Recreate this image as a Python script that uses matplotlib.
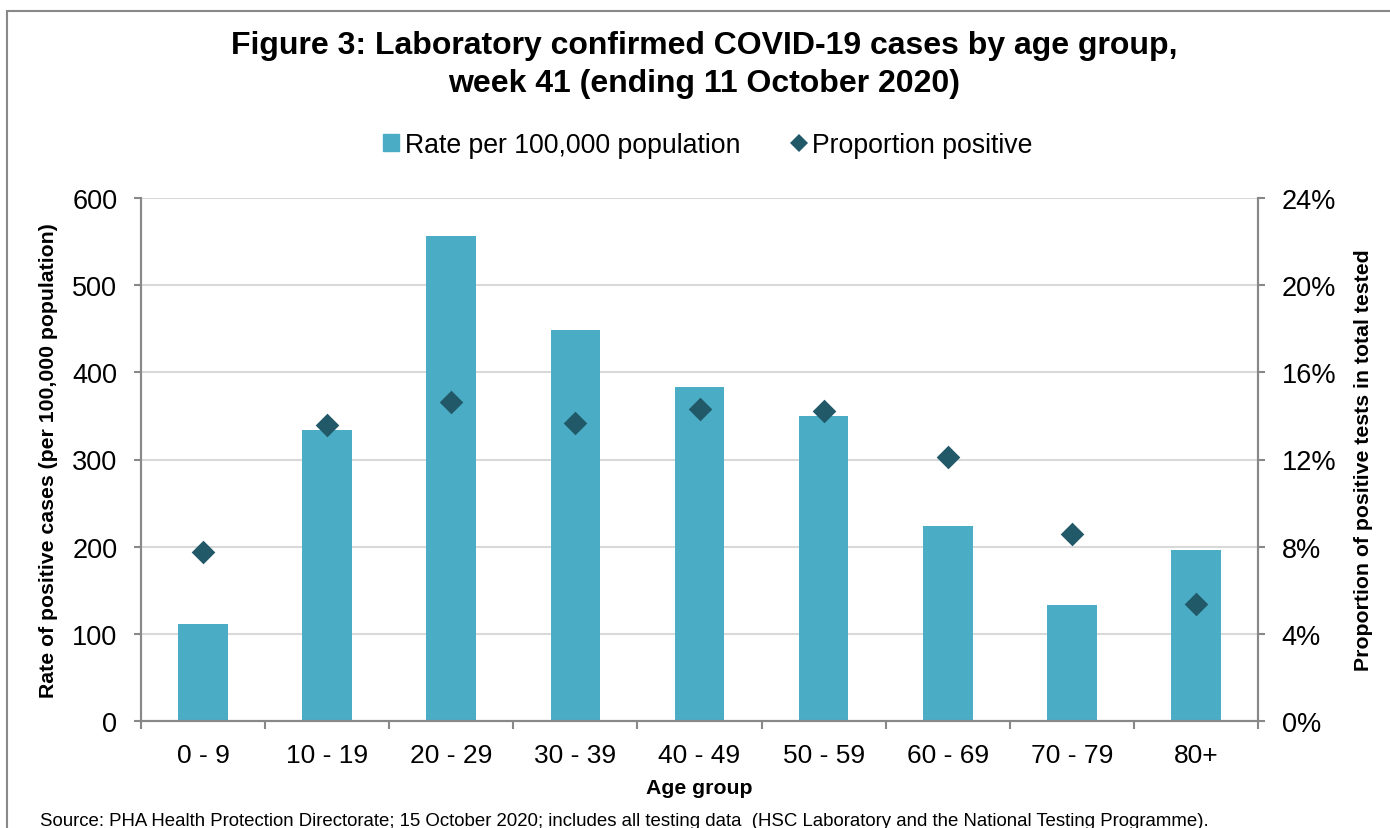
import numpy as np
import matplotlib
matplotlib.use('Agg')
import matplotlib.pyplot as plt
from matplotlib.ticker import FuncFormatter, MultipleLocator
from matplotlib.lines import Line2D
from matplotlib.patches import Patch, Rectangle

plt.rcParams['font.family'] = ['Liberation Sans', 'DejaVu Sans']

age_groups = ['0 - 9', '10 - 19', '20 - 29', '30 - 39', '40 - 49',
              '50 - 59', '60 - 69', '70 - 79', '80+']
rate = [111, 334, 556, 448, 383, 350, 224, 133, 196]
proportion = [7.76, 13.6, 14.64, 13.68, 14.32, 14.23, 12.12, 8.58, 5.37]

bar_col = '#4BACC6'
dia_col = '#215968'
grid_col = '#D9D9D9'
spine_col = '#888888'

W, H = 1390, 829
fig = plt.figure(figsize=(W/100, H/100), dpi=100)
ax = fig.add_axes([141/W, 1 - 722/H, (1258-141)/W, (722-199)/H])
ax2 = ax.twinx()

x = np.arange(len(age_groups))
ax.bar(x, rate, width=0.4, color=bar_col, zorder=2)
ax2.scatter(x, proportion, marker='D', s=145, color=dia_col, lw=0, zorder=3)

ax.set_xlim(-0.5, len(age_groups) - 0.5)
ax.set_ylim(0, 600)
ax.yaxis.set_major_locator(MultipleLocator(100))
ax2.set_ylim(0, 24)
ax2.yaxis.set_major_locator(MultipleLocator(4))
ax2.yaxis.set_major_formatter(FuncFormatter(lambda v, p: f'{v:.0f}%'))

ax.grid(axis='y', color=grid_col, lw=1.5, zorder=0)
ax.set_axisbelow(True)

for a in (ax, ax2):
    a.spines['top'].set_visible(False)
    for s in ('left', 'right', 'bottom'):
        a.spines[s].set_color(spine_col)
        a.spines[s].set_linewidth(1.5)
    a.tick_params(axis='y', colors=spine_col, labelcolor='black',
                  labelsize=19.5, length=5, width=1.5, pad=12)

ax.set_xticks(x)
ax.set_xticklabels(age_groups, fontsize=19)
ax.tick_params(axis='x', length=0, pad=16)
ax.set_xticks(np.arange(-0.5, len(age_groups)), minor=True)
ax.tick_params(axis='x', which='minor', length=6, width=1.5, colors=spine_col)

ax.set_xlabel('Age group', fontsize=15.3, fontweight='bold', labelpad=8)
ax.set_ylabel('Rate of positive cases (per 100,000 population)',
              fontsize=15.3, fontweight='bold', labelpad=10)
ax2.set_ylabel('Proportion of positive tests in total tested',
               fontsize=15.3, fontweight='bold', labelpad=13)

fig.text(704/W, 1 - 65/H,
         'Figure 3: Laboratory confirmed COVID-19 cases by age group,\nweek 41 (ending 11 October 2020)',
         ha='center', va='center', fontsize=23, fontweight='bold', linespacing=1.33)

handles = [Patch(color=bar_col, label='Rate per 100,000 population'),
           Line2D([], [], marker='D', ls='none', color=dia_col, markersize=9,
                  markeredgewidth=0, label='Proportion positive')]
fig.legend(handles=handles, loc='center', bbox_to_anchor=(708/W, 1 - 146/H),
           ncol=2, frameon=False, fontsize=19.2, handlelength=0.6,
           handleheight=0.6, handletextpad=0.2, columnspacing=1.9)

fig.text(40/W, 1 - 822/H,
         'Source: PHA Health Protection Directorate; 15 October 2020; includes all testing data  '
         '(HSC Laboratory and the National Testing Programme).',
         ha='left', va='center', fontsize=13.4)

# outer chart border
fig.patches.append(Rectangle((7/W, -0.05), 1.2, 1 - 12/H + 0.05,
                             transform=fig.transFigure, fill=False,
                             ec='#888888', lw=1.5))

fig.savefig('out.png', dpi=100)
